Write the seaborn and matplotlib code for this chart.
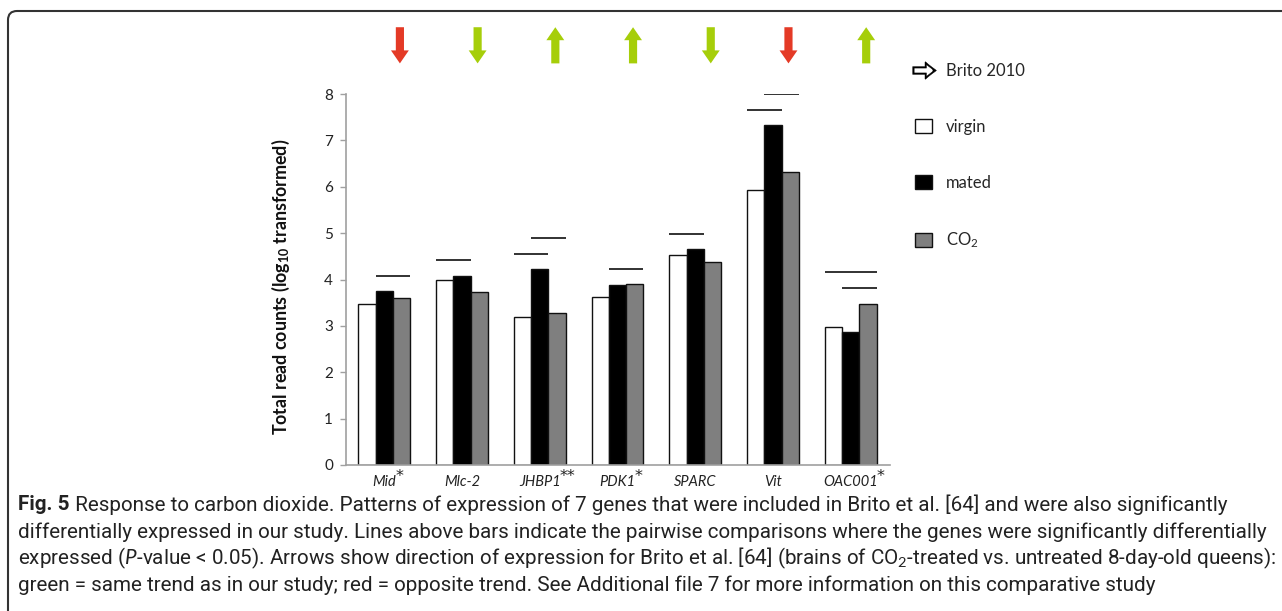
import matplotlib
matplotlib.use("Agg")
import matplotlib.pyplot as plt
import matplotlib.patches as mpatches
import matplotlib.transforms as mtransforms
from matplotlib.lines import Line2D
from matplotlib import font_manager
import numpy as np
import pandas as pd
import seaborn as sns

# data
genes = ["Mid", "Mlc-2", "JHBP1", "PDK1", "SPARC", "Vit", "OAC001"]
stars = ["*", "", "**", "*", "", "", "*"]
groups = ["virgin", "mated", "CO2"]
virgin = [3.47, 3.99, 3.20, 3.63, 4.53, 5.94, 2.98]
mated = [3.75, 4.08, 4.22, 3.89, 4.65, 7.33, 2.86]
co2 = [3.61, 3.74, 3.28, 3.90, 4.38, 6.31, 3.47]

# significance lines: gene index, first group, last group, height
sig_gene = [0, 1, 2, 2, 3, 4, 5, 5, 6, 6]
sig_from = [1, 0, 0, 1, 1, 0, 0, 1, 0, 1]
sig_to = [2, 1, 1, 2, 2, 1, 1, 2, 2, 2]
sig_y = [4.08, 4.43, 4.56, 4.89, 4.23, 4.98, 7.66, 7.99, 4.16, 3.81]

# Brito 2010 arrows: +1 up, -1 down; colour = same / opposite trend
brito_dir = [-1, -1, 1, 1, -1, -1, 1]
brito_same = [False, True, True, True, True, False, True]

caption_lines = [
    (" Response to carbon dioxide. Patterns of expression of 7 genes that were included in Brito et al. [64] and were also significantly"),
    "differentially expressed in our study. Lines above bars indicate the pairwise comparisons where the genes were significantly differentially",
    "expressed ($\\it{P}$-value < 0.05). Arrows show direction of expression for Brito et al. [64] (brains of CO$_2$-treated vs. untreated 8-day-old queens):",
    "green = same trend as in our study; red = opposite trend. See Additional file 7 for more information on this comparative study",
]


def pick_font(candidates):
    names = {f.name for f in font_manager.fontManager.ttflist}
    for c in candidates:
        if c in names:
            return c
    return "DejaVu Sans"


sns.set_style("white")
main_font = pick_font(["Lato", "Open Sans", "DejaVu Sans"])
cap_font = pick_font(["Liberation Sans Narrow", "DejaVu Sans Condensed", "Roboto", "Open Sans"])
plt.rcParams["font.family"] = [main_font, "DejaVu Sans"]
plt.rcParams["mathtext.fontset"] = "custom"
plt.rcParams["mathtext.rm"] = main_font
plt.rcParams["mathtext.it"] = main_font + ":italic"
plt.rcParams["mathtext.bf"] = main_font + ":bold"

W, H = 1282, 611
fig = plt.figure(figsize=(W / 100, H / 100), dpi=100)
ax = fig.add_axes([345.5 / W, 1 - 465 / H, 544 / W, 371 / H])

df = pd.DataFrame({
    "gene": np.repeat(genes, 3),
    "group": groups * len(genes),
    "value": np.ravel(np.column_stack([virgin, mated, co2])),
})
bar_colors = {"virgin": "white", "mated": "black", "CO2": "#7f7f7f"}
sns.barplot(data=df, x="gene", y="value", hue="group", hue_order=groups,
            palette=bar_colors, width=2 / 3, edgecolor="#111111", linewidth=1,
            saturation=1, ax=ax, legend=False)

# significance lines from the bar geometry
for g, a, b, y in zip(sig_gene, sig_from, sig_to, sig_y):
    left = ax.containers[a][g]
    right = ax.containers[b][g]
    x0 = left.get_x()
    x1 = right.get_x() + right.get_width()
    ax.hlines(y, x0, x1, color="#222222", lw=1.3)

# Brito 2010 direction arrows above the plot
for i, (d, same) in enumerate(zip(brito_dir, brito_same)):
    col = "#a6ce0a" if same else "#e43a26"
    lo, hi = 8.66, 9.44
    start, dy = (lo, hi - lo) if d > 0 else (hi, lo - hi)
    ax.arrow(i + 0.2, start, 0, dy, width=0.105, head_width=0.23,
             head_length=0.28, length_includes_head=True, color=col,
             lw=0, clip_on=False)

ax.set_xlim(-0.5, 6.5)
ax.set_ylim(0, 8)
ax.set_yticks(range(0, 9))
ax.set_xticks(range(len(genes)))
ax.set_xticklabels(genes, fontstyle="italic", fontsize=10.5, color="#222222")
ax.tick_params(axis="x", length=0, pad=7)
ax.tick_params(axis="y", length=4, width=1, color="#a0a0a0", labelsize=11,
               labelcolor="#222222", left=True, pad=5)
ax.set_xlabel("")
ax.set_ylabel("Total read counts (log$_{\\mathbf{10}}$ transformed)",
              fontsize=12.9, fontweight="bold", color="#111111")
ax.yaxis.set_label_coords(-0.098, 0.48)
for side in ["top", "right"]:
    ax.spines[side].set_visible(False)
for side in ["left", "bottom"]:
    ax.spines[side].set_color("#a0a0a0")
    ax.spines[side].set_linewidth(1.2)

# legend
handles = [
    Line2D([], [], linestyle="none", marker="$\u21e8$", markersize=17,
           color="black", markeredgewidth=0.3),
    mpatches.Patch(facecolor="white", edgecolor="#111111", lw=1),
    mpatches.Patch(facecolor="black", edgecolor="#111111", lw=1),
    mpatches.Patch(facecolor="#7f7f7f", edgecolor="#111111", lw=1),
]
labels = ["Brito 2010", "virgin", "mated", "CO$_2$"]
fig.legend(handles, labels, loc="upper left",
           bbox_to_anchor=(907 / W, 1 - 55 / H), frameon=False,
           fontsize=12, labelspacing=2.38, handlelength=1.0,
           handleheight=0.9, handletextpad=0.85, borderpad=0)

fig.canvas.draw()
renderer = fig.canvas.get_renderer()
pix = mtransforms.IdentityTransform()

# significance stars as superscripts next to the gene names
for lab, s in zip(ax.get_xticklabels(), stars):
    if s:
        bb = lab.get_window_extent(renderer)
        fig.text(bb.x1 - 1, bb.y1 - 2, s, transform=pix, fontsize=11.5,
                 family="DejaVu Sans", ha="left", va="center", color="#222222")

# caption, sized so the longest line fills the frame like the original
cap_y = [505, 532, 558, 585]
probe = fig.text(0, 0, caption_lines[1], fontsize=13, family=cap_font)
cap_size = 13 * 1254 / probe.get_window_extent(renderer).width
probe.remove()
bold = fig.text(18 / W, 1 - cap_y[0] / H, "Fig. 5", fontsize=cap_size,
                fontweight="bold", family=cap_font, va="center", color="#222222")
bb = bold.get_window_extent(renderer)
fig.text(bb.x1 / W, 1 - cap_y[0] / H, caption_lines[0], fontsize=cap_size,
         family=cap_font, va="center", color="#222222")
for line, y in zip(caption_lines[1:], cap_y[1:]):
    fig.text(18 / W, 1 - y / H, line, fontsize=cap_size, family=cap_font,
             va="center", color="#222222")

# rounded frame around the figure
frame = mpatches.FancyBboxPatch((8, -30), W + 20, H - 11 + 30,
                                boxstyle="round,pad=0,rounding_size=9",
                                transform=pix, facecolor="none",
                                edgecolor="#333333", lw=1.5)
fig.patches.append(frame)

fig.savefig("out.png", dpi=100)
